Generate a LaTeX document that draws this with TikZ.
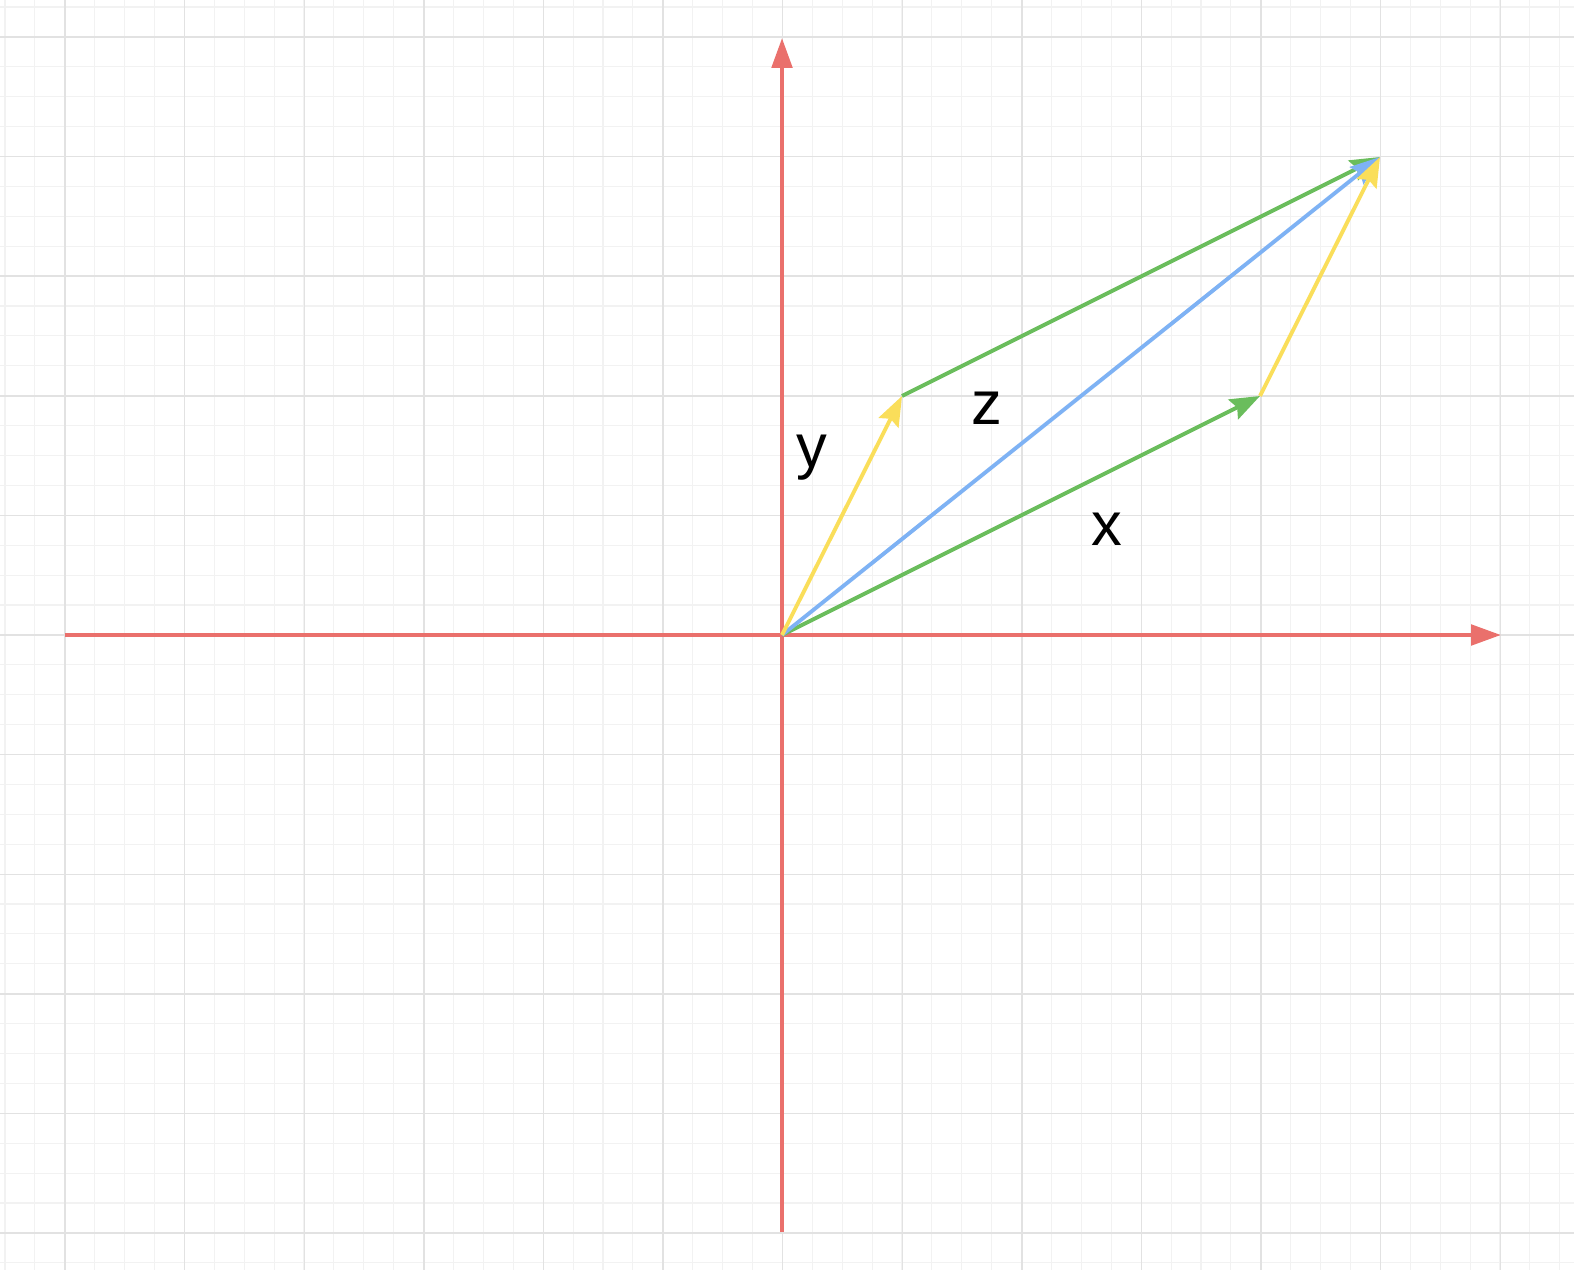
\documentclass[tikz,border=0pt]{standalone}
\usepackage{fontspec}
\setmainfont{Liberation Sans}
\usetikzlibrary{arrows.meta}
\definecolor{axisred}{RGB}{234,112,108}
\definecolor{vgreen}{RGB}{106,189,92}
\definecolor{vblue}{RGB}{126,178,244}
\definecolor{vyellow}{RGB}{250,222,90}
\definecolor{gridminor}{RGB}{242,242,242}
\definecolor{gridmajor}{RGB}{226,226,226}
\tikzset{
  axisline/.style={draw=axisred, line width=2.5pt, -{Triangle[length=17pt,width=11.5pt]}},
  vec/.style={line width=2.2pt, -{Stealth[length=17pt,width=12.5pt,inset=2.5pt]}},
  lbl/.style={font=\fontsize{35}{40}\selectfont, anchor=base, inner sep=0pt}
}
\begin{document}
\begin{tikzpicture}[x=0.02cm,y=-0.02cm]
\useasboundingbox (0,0) rectangle (1574,1270);
\fill[white] (0,0) rectangle (1574,1270);
% minor grid
\foreach \i in {0,...,52} \draw[gridminor, line width=0.6pt] ({5+29.9*\i},0) -- ({5+29.9*\i},1270);
\foreach \i in {0,...,42} \draw[gridminor, line width=0.6pt] (0,{7+29.9*\i}) -- (1574,{7+29.9*\i});
% major grid
\foreach \i in {0,...,12} \draw[gridmajor, line width=0.8pt] ({65+119.6*\i},0) -- ({65+119.6*\i},1270);
\foreach \i in {0,...,10} \draw[gridmajor, line width=0.8pt] (0,{37+119.6*\i}) -- (1574,{37+119.6*\i});
% coordinates
\coordinate (O) at (782,635);
\coordinate (Xl) at (65,635);
\coordinate (Xr) at (1501,635);
\coordinate (Yb) at (782,1232);
\coordinate (Yt) at (782,38);
\coordinate (X) at (1260,396);
\coordinate (Y) at (902,396);
\coordinate (Z) at (1380,157);
% axes
\draw[axisline] (Xl) -- (Xr);
\draw[axisline] (Yb) -- (Yt);
% vectors
\draw[vec, vgreen] (O) -- (X);
\draw[vec, vgreen] (Y) -- (Z);
\draw[vec, vblue] (O) -- (Z);
\draw[vec, vyellow] (O) -- (Y);
\draw[vec, vyellow] (X) -- (Z);
% labels
\node[lbl] (ly) at (812,467) {y};
\node[lbl] (lz) at (987,424) {z};
\node[lbl] (lx) at (1107,545) {x};
\end{tikzpicture}
\end{document}
